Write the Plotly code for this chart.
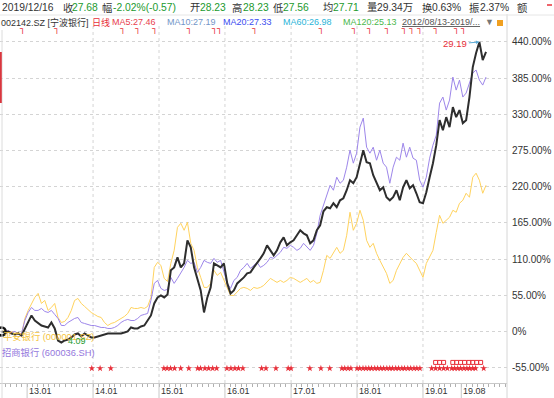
import plotly.graph_objects as go
import pandas as pd

# ---------------- data (percent change since 2012/08/13) ----------------
start_date = "2012-08-13"
end_date = "2019-12-16"

nb_pct = [0, -1.5, 0, -3, -4.6, -3, -6.1, 4.6, 13.7, 24.4,
          16.7, 12.2, 9.1, 7.6, 6.1, 13.7, 4.6, -13.7, -16.7, -13.7,
          -12.2, -9.1, -4.6, -3, -7.6, -3, -6.1, -9.1, -9.1, -7.6,
          -6.1, -4.6, -3, -3, -3, -3, -3, -1.5, 0, 6.1,
          4.6, 4.6, 7.6, 9.1, 16.7, 24.4, 42.6, 51.8, 54.8, 51.8,
          56.3, 92.9, 97.4, 112.7, 97.4, 103.5, 138.5, 127.9, 97.4, 77.6,
          62.4, 28.9, 51.8, 67, 103.5, 100.5, 97.4, 103.5, 73.1, 57.9,
          62.4, 73.1, 77.6, 82.2, 88.3, 89.8, 97.4, 103.5, 111.1, 118.8,
          130.9, 123.3, 115.7, 123.3, 135.5, 143.1, 130.9, 135.5, 138.5, 146.2,
          153.8, 149.2, 146.2, 134, 138.5, 153.8, 161.4, 182.7, 188.8, 187.3,
          194.9, 188.8, 199.4, 202.5, 214.7, 229.9, 225.3, 234.5, 255.8, 275.6,
          257.3, 255.8, 237.5, 225.3, 214.7, 219.2, 204, 199.4, 204, 214.7,
          199.4, 219.2, 229.9, 217.7, 222.3, 210.1, 196.4, 194.9, 211.6, 234.5,
          255.8, 283.2, 321.2, 306, 325.8, 310.6, 341, 325.8, 336.5, 316.7,
          321.2, 356.3, 401.9, 423.3, 440, 412.6, 424.8]

cmb_pct = [0, 0, 1.5, -1.5, 0, -3, -3, 16.7, 28.9, 36.5,
           32, 32, 35, 30.5, 28.9, 32, 25.9, 19.8, 9.1, 9.1,
           13.7, 16.7, 19.8, 21.3, 13.7, 12.2, 10.7, 9.1, 9.1, 7.6,
           6.1, 6.1, 4.6, 4.6, 6.1, 9.1, 13.7, 16.7, 18.3, 16.7,
           16.7, 19.8, 24.4, 25.9, 27.4, 47.2, 73.1, 77.6, 65.5, 62.4,
           63.9, 82.2, 73.1, 80.7, 88.3, 97.4, 108.1, 103.5, 105.1, 89.8,
           97.4, 108.1, 105.1, 103.5, 111.1, 105.1, 108.1, 88.3, 73.1, 65.5,
           77.6, 82.2, 92.9, 97.4, 103.5, 95.9, 100.5, 105.1, 97.4, 100.5,
           105.1, 112.7, 111.1, 115.7, 120.3, 127.9, 126.4, 130.9, 127.9, 123.3,
           126.4, 134, 127.9, 123.3, 130.9, 149.2, 176.6, 191.8, 210.1, 222.3,
           214.7, 234.5, 225.3, 229.9, 249.7, 275.6, 255.8, 271, 310.6, 324.3,
           280.1, 271, 280.1, 260.3, 275.6, 255.8, 249.7, 225.3, 249.7, 264.9,
           260.3, 286.2, 264.9, 280.1, 263.4, 260.3, 229.9, 219.2, 234.5, 263.4,
           283.2, 298.4, 347.1, 356.3, 336.5, 351.7, 386.7, 366.9, 382.1, 356.3,
           362.4, 377.6, 392.8, 397.4, 382.1, 374.5, 386.7]

pab_pct = [0, 1.5, -1.5, 0, -3, -1.5, -4.6, 19.8, 32, 42.6,
           51.8, 57.9, 42.6, 47.2, 32, 36.5, 42.6, 21.3, 13.7, 15.2,
           21.3, 32, 47.2, 50.2, 42.6, 38.1, 33.5, 28.9, 25.9, 22.8,
           21.3, 13.7, 9.1, 12.2, 13.7, 16.7, 19.8, 22.8, 27.4, 36.5,
           35, 35, 36.5, 35, 38.1, 51.8, 97.4, 105.1, 100.5, 80.7,
           76.1, 103.5, 123.3, 158.3, 164.4, 153.8, 166, 134, 123.3, 97.4,
           82.2, 67, 67, 73.1, 92.9, 85.3, 89.8, 77.6, 67, 54.8,
           54.8, 59.4, 65.5, 67, 65.5, 62.4, 67, 65.5, 67, 70,
           74.6, 80.7, 77.6, 74.6, 77.6, 74.6, 77.6, 82.2, 80.7, 77.6,
           74.6, 77.6, 80.7, 74.6, 77.6, 73.1, 74.6, 92.9, 115.7, 111.1,
           120.3, 127.9, 118.8, 123.3, 146.2, 181.2, 153.8, 164.4, 184.2, 169,
           138.5, 127.9, 134, 118.8, 108.1, 97.4, 88.3, 73.1, 77.6, 92.9,
           103.5, 112.7, 118.8, 112.7, 108.1, 103.5, 92.9, 82.2, 103.5, 112.7,
           123.3, 150.7, 176.6, 164.4, 169, 173.6, 184.2, 181.2, 194.9, 199.4,
           210.1, 204, 234.5, 240.6, 229.9, 210.1, 222.3]

# event flags on top row
flag_dates = ["2012-12-08", "2013-06-15", "2014-06-15", "2014-09-06", "2014-12-09",
              "2015-06-18", "2015-11-06", "2015-12-03", "2016-06-15", "2017-06-18",
              "2017-12-18", "2018-03-12", "2018-06-18", "2018-09-21", "2018-11-01",
              "2018-12-15", "2019-03-15", "2019-07-06", "2019-08-15"]

# star markers on bottom row
star_dates = ["2013-12-25", "2014-02-09", "2014-04-09", "2015-01-28", "2015-02-15",
              "2015-03-06", "2015-03-28", "2015-05-01", "2015-06-15", "2015-08-03",
              "2015-08-19", "2015-09-12", "2015-10-03", "2015-10-25", "2015-11-16",
              "2016-01-12", "2016-02-03", "2016-02-25", "2016-03-16", "2016-04-09",
              "2016-07-22", "2016-08-15", "2016-10-09", "2016-12-16", "2017-01-01",
              "2017-04-15", "2017-06-15", "2017-08-03", "2017-10-09", "2017-10-25",
              "2017-11-12", "2017-11-28", "2018-01-01", "2018-01-16", "2018-02-03",
              "2018-02-19", "2018-03-07", "2018-03-22", "2018-04-09", "2018-04-25",
              "2018-05-12", "2018-05-28", "2018-06-15", "2018-07-01", "2018-07-16",
              "2018-08-03", "2018-08-19", "2018-09-06", "2018-09-21", "2018-10-09",
              "2018-10-25", "2018-11-12", "2018-11-28", "2018-12-15", "2019-02-18",
              "2019-03-12", "2019-04-03", "2019-04-25", "2019-05-16", "2019-06-09",
              "2019-06-25", "2019-07-12", "2019-07-28", "2019-08-15", "2019-09-01",
              "2019-09-16", "2019-10-03", "2019-10-19", "2019-12-03"]

box_dates = ["2019-03-12", "2019-04-03", "2019-04-25", "2019-06-15", "2019-07-06",
             "2019-07-28", "2019-08-19", "2019-09-12", "2019-10-03", "2019-10-25",
             "2019-11-16"]

tick_dates = ["2013-01-01", "2014-01-01", "2015-01-01", "2016-01-01", "2017-01-01",
              "2018-01-01", "2019-01-01", "2019-08-01"]
tick_labels = ["13.01", "14.01", "15.01", "16.01", "17.01", "18.01", "19.01", "19.08"]
grid_dates = ["2014-01-01", "2015-01-01", "2016-01-01", "2017-01-01", "2018-01-01",
              "2019-01-01"]

y_ticks = [-55, 0, 55, 110, 165, 220, 275, 330, 385, 440]
y_labels = ["-55.00%", "0%", "55.00%", "110.00%", "165.00%", "220.00%", "275.00%",
            "330.00%", "385.00%", "440.00%"]

peak_label = "29.19"
low_label = "4.09"

# ---------------- figure ----------------
dates = pd.date_range(start_date, end_date, periods=len(nb_pct))
W, H = 554, 398
ML, MR, MT, MB = 0, 47, 26, 15
PW, PH = W - ML - MR, H - MT - MB
FONT = "Liberation Sans, Arial, Noto Sans CJK SC, sans-serif"

BLACK = "#2e2e2e"
PURPLE = "#9d86ea"
YELLOW = "#ffd35e"
RED = "#e8303a"
GREEN = "#229a2e"
DARK = "#333333"

fig = go.Figure()
fig.add_trace(go.Scatter(x=dates, y=pab_pct, mode="lines",
                         line=dict(color=YELLOW, width=1), hoverinfo="skip"))
fig.add_trace(go.Scatter(x=dates, y=cmb_pct, mode="lines",
                         line=dict(color=PURPLE, width=1), hoverinfo="skip"))
fig.add_trace(go.Scatter(x=dates, y=nb_pct, mode="lines",
                         line=dict(color=BLACK, width=2), hoverinfo="skip"))
fig.add_trace(go.Scatter(x=[dates[0]], y=[nb_pct[0]], mode="markers", cliponaxis=False,
                         marker=dict(symbol="circle-open", size=8, color="#111",
                                     line=dict(width=2.5, color="#111")),
                         hoverinfo="skip"))
# bottom stars
fig.add_trace(go.Scatter(x=star_dates, y=[-56] * len(star_dates), mode="markers",
                         marker=dict(symbol="star", size=5, color=RED), hoverinfo="skip"))
fig.add_trace(go.Scatter(x=box_dates, y=[-47] * len(box_dates), mode="markers",
                         marker=dict(symbol="square-open", size=4, color=RED,
                                     line=dict(width=1, color=RED)), hoverinfo="skip"))
# top flags
fig.add_trace(go.Scatter(x=flag_dates, y=[458] * len(flag_dates), mode="text",
                         text=["┐"] * len(flag_dates), cliponaxis=False,
                         textfont=dict(color=RED, size=9, family="DejaVu Sans"),
                         hoverinfo="skip"))

shapes = []
def px_x(px):
    return (px - ML) / PW
def px_y(py):
    return (H - MB - py) / PH

for d in grid_dates:
    shapes.append(dict(type="line", xref="x", yref="paper", x0=d, x1=d, y0=0, y1=1,
                       line=dict(color="#d4d4d4", width=1, dash="dot"), layer="below"))
for d in tick_dates:
    shapes.append(dict(type="line", xref="x", yref="paper", x0=d, x1=d, y0=0,
                       y1=px_y(H), line=dict(color="#c8c8c8", width=1)))
# right axis line, left border, header separator
shapes.append(dict(type="line", xref="paper", yref="paper", x0=1, x1=1,
                   y0=px_y(H), y1=px_y(14), line=dict(color="#d6d6d6", width=1)))
shapes.append(dict(type="line", xref="paper", yref="paper", x0=px_x(2), x1=px_x(2),
                   y0=px_y(H), y1=px_y(30), line=dict(color="#dcdcdc", width=1)))
shapes.append(dict(type="rect", xref="paper", yref="paper", x0=px_x(0), x1=px_x(1.8),
                   y0=px_y(103), y1=px_y(52), line=dict(width=0), fillcolor="#d9363e"))
shapes.append(dict(type="line", xref="paper", yref="paper", x0=px_x(0), x1=px_x(W),
                   y0=px_y(15), y1=px_y(15), line=dict(color="#e6e6e6", width=1)))
shapes.append(dict(type="line", xref="paper", yref="paper", x0=px_x(547), x1=px_x(552),
                   y0=px_y(5), y1=px_y(5), line=dict(color=RED, width=1.5)))
shapes.append(dict(type="rect", xref="paper", yref="paper", x0=px_x(497), x1=px_x(503),
                   y0=px_y(26), y1=px_y(20), line=dict(width=0), fillcolor="#f0a020"))

ann = []
def label(text, px, py, color, size=10, anchor="left"):
    ann.append(dict(text=text, xref="paper", yref="paper", x=px_x(px - 2), y=px_y(py),
                    xanchor=anchor, yanchor="middle", showarrow=False,
                    font=dict(family=FONT, size=size, color=color)))

row1 = [("2019/12/16", 2, DARK), ("收", 63, DARK), ("27.68", 72, GREEN),
        ("幅", 102, DARK), ("-2.02%(-0.57)", 113, GREEN), ("开", 190, DARK),
        ("28.23", 200, GREEN), ("高", 232, DARK), ("28.23", 243, GREEN),
        ("低", 273, DARK), ("27.56", 283, GREEN), ("均", 323, DARK),
        ("27.71", 333, GREEN), ("量", 367, DARK), ("29.34万", 377, DARK),
        ("换", 422, DARK), ("0.63%", 432, DARK), ("振", 469, DARK),
        ("2.37%", 480, DARK), ("额", 517, DARK)]
for t, px, c in row1:
    label(t, px, 8, c, size=10.3)

row2 = [("002142.SZ [宁波银行]", 1, DARK), ("日线", 92, RED), ("MA5:27.46", 112, "#e8404e"),
        ("MA10:27.19", 167, "#7396c8"), ("MA20:27.33", 223, "#3a4cf0"),
        ("MA60:26.98", 283, "#2ab4d8"), ("MA120:25.13", 343, "#4cb84c"),
        ("<u>2012/08/13-2019/...</u>", 402, "#555555"), ("▼", 485, "#777777")]
for t, px, c in row2:
    label(t, px, 22, c, size=9)

label("平安银行 (000001.SZ)", 3, 336, "#f5c440", size=9.3)
label("招商银行 (600036.SH)", 2, 352, "#9477dd", size=9.3)

# x tick labels (left-aligned next to their tick)
for d, t in zip(tick_dates, tick_labels):
    ann.append(dict(text=t, xref="x", yref="paper", x=d, y=px_y(391), xanchor="left",
                    yanchor="middle", showarrow=False,
                    font=dict(family=FONT, size=9, color=DARK)))

ipk = nb_pct.index(max(nb_pct))
ann.append(dict(x=dates[ipk], y=nb_pct[ipk], xref="x", yref="y", text=peak_label,
                showarrow=True, ax=-24, ay=2, arrowhead=2, arrowsize=0.7, arrowwidth=1,
                arrowcolor="#5aaad6", font=dict(family=FONT, size=9.5, color=RED)))
ilo = nb_pct.index(min(nb_pct))
ann.append(dict(x=dates[ilo], y=nb_pct[ilo], xref="x", yref="y", text=low_label,
                showarrow=False, xanchor="left", yanchor="middle", xshift=5, yshift=1,
                font=dict(family=FONT, size=9, color=GREEN)))

fig.update_layout(
    template="none",
    width=W, height=H, margin=dict(l=ML, r=MR, t=MT, b=MB, pad=0),
    paper_bgcolor="white", plot_bgcolor="white", showlegend=False,
    font=dict(family=FONT, size=10, color=DARK),
    shapes=shapes, annotations=ann,
    xaxis=dict(type="date", range=["2012-08-04", "2020-04-10"], showgrid=False,
               automargin=False, zeroline=False, tickvals=tick_dates,
               showticklabels=False, ticks="", showline=True, linecolor="#c8c8c8",
               minor=dict(dtick="M1", tick0="2013-01-01", ticks="outside", ticklen=3,
                          tickcolor="#b0b0b0", showgrid=False)),
    yaxis=dict(range=[-78.3, 464.3], side="right", tickvals=y_ticks, ticktext=y_labels,
               automargin=False, showgrid=True, gridcolor="#d4d4d4", griddash="dot",
               gridwidth=1, zeroline=False, ticks="", showline=False,
               ticklabelstandoff=4,
               tickfont=dict(family=FONT, size=10, color=DARK)),
)

fig.write_html("out.html", config={"displayModeBar": False},
               post_script="document.body.style.margin='0px';"
                           "document.body.style.overflow='hidden';")
